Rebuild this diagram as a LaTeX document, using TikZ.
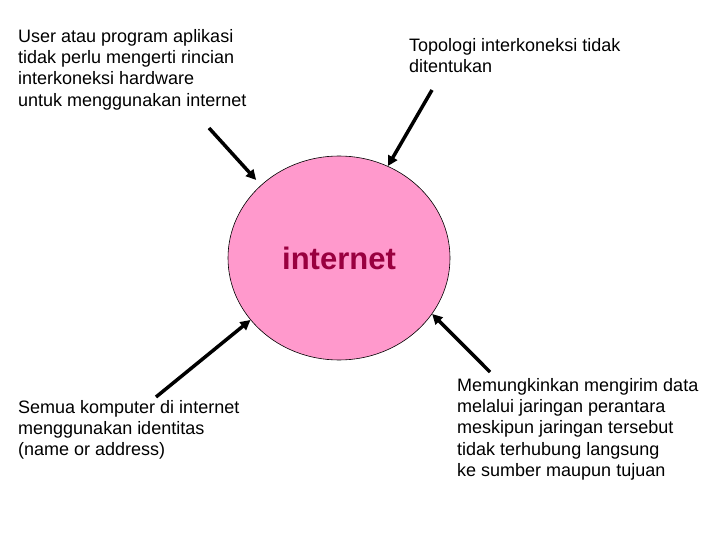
\documentclass[tikz,border=0pt]{standalone}
\usepackage{fontspec}
\setmainfont{Liberation Sans}
\definecolor{netPink}{RGB}{255, 153, 204}
\definecolor{netText}{RGB}{153, 0, 63}
\usetikzlibrary{shapes.geometric,arrows.meta}

\begin{document}
\begin{tikzpicture}[x=1pt,y=-1pt,
                note/.style={anchor=north west,align=left,inner sep=0pt,
                            font=\fontsize{18}{21.3}\selectfont},
                pointer/.style={line width=3.5pt,-{Triangle[length=10pt,width=10pt]}}
            ]
                \useasboundingbox (0,0) rectangle (720,540);
                % the cloud in the middle
                \node[ellipse,draw=black,line width=0.6pt,fill=netPink,
                      minimum width=222pt,minimum height=204pt,inner sep=0pt,
                      text=netText,font=\fontsize{31}{36}\selectfont\bfseries]
                      (net) at (339,258) {internet};

                \node[note] (user) at (18,29) {
                    User atau program aplikasi\\
                    tidak perlu mengerti rincian\\
                    interkoneksi hardware\\
                    untuk menggunakan internet
                };
                \node[note] (topo) at (409,38) {
                    Topologi interkoneksi tidak\\
                    ditentukan
                };
                \node[note] (addr) at (18,400) {
                    Semua komputer di internet\\
                    menggunakan identitas\\
                    (name or address)
                };
                \node[note] (route) at (457,378) {
                    Memungkinkan mengirim data\\
                    melalui jaringan perantara\\
                    meskipun jaringan tersebut\\
                    tidak terhubung langsung\\
                    ke sumber maupun tujuan
                };

                % arrow tails
                \coordinate (userTail) at (209,128);
                \coordinate (topoTail) at (432,90);
                \coordinate (addrTail) at (156,397);
                \coordinate (routeTail) at (490,372);

                \draw[pointer,shorten >=7pt] (userTail) -- (net.137);
                \draw[pointer] (topoTail) -- (net.62);
                \draw[pointer] (addrTail) -- (net.215);
                \draw[pointer] (routeTail) -- (net.-31);
            \end{tikzpicture}
\end{document}
